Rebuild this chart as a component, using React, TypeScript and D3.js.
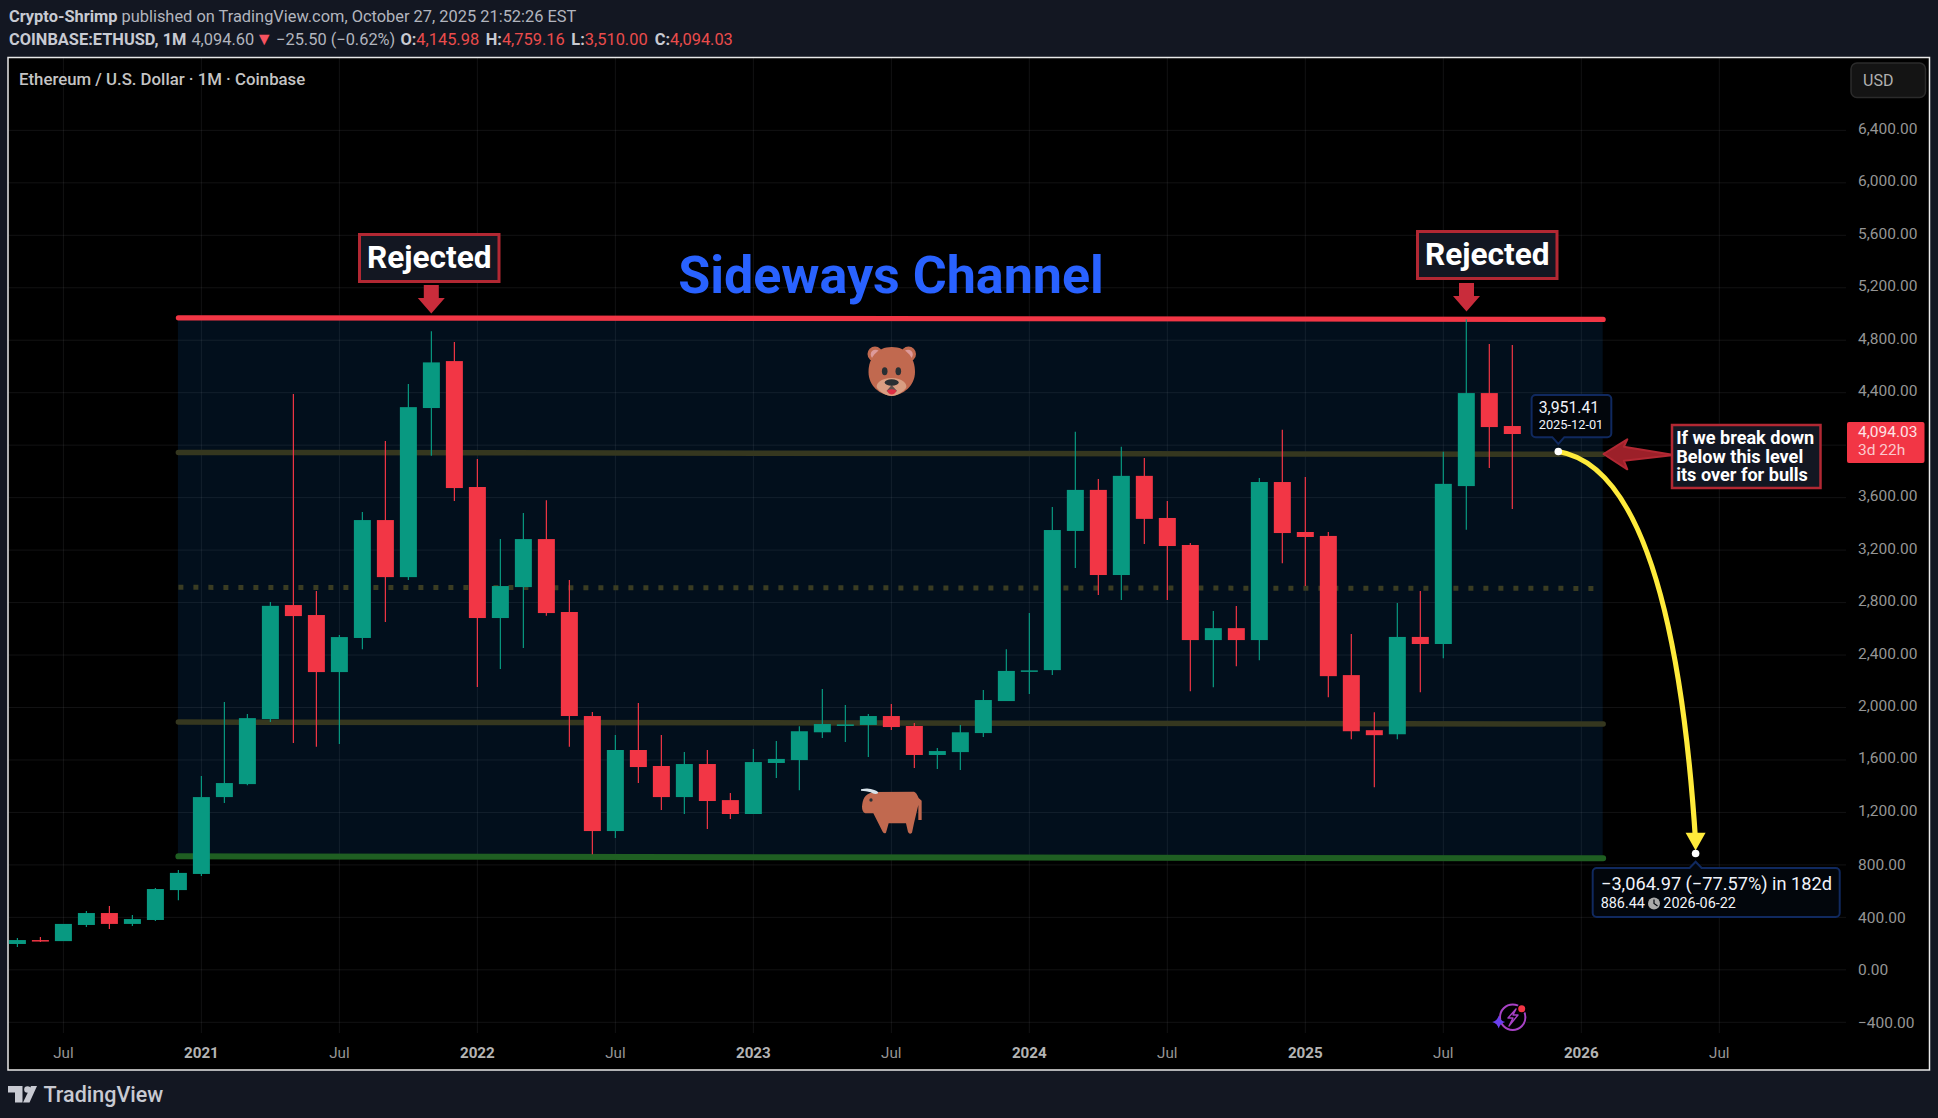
import React from "react";
import * as d3 from "d3";

// Bars are indexed by months since Jan 2021 (May 2020 = -8).
const firstMonthIndex = -8;
const opens = [197,227,219,342,433,350,380,608,731,1317,1416,1912,2781,2705,2270,2530,3429,2994,4283,4641,3681,2682,2918,3284,2728,1935,1058,1676,1554,1317,1569,1294,1188,1577,1599,1811,1865,1867,1935,1859,1638,1660,1805,2049,2279,2285,3346,3659,3010,3766,3445,3239,2514,2605,2514,3719,3338,3308,2247,1827,1796,2538,2484,3688,4397,4146];
const highs = [243,250,350,448,486,418,624,761,1477,2041,1950,2804,4390,2888,2553,3490,4031,4466,4868,4786,3894,3284,3482,3581,2972,1965,1790,2034,1790,1660,1676,1348,1684,1745,1858,2141,2019,1950,2026,1881,1691,1866,2133,2445,2720,3529,4102,3743,3987,3903,3574,3254,2735,2773,3750,4117,3758,3338,2560,1964,2796,2888,3949,4960,4771,4764];
const lows = [174,212,219,326,311,334,372,531,716,1271,1408,1889,1729,1700,1721,2445,2652,2972,3919,3574,2156,2293,2453,2700,1700,882,1005,1424,1218,1188,1073,1150,1188,1462,1370,1767,1737,1622,1828,1538,1531,1523,1775,2049,2103,2247,3064,2857,2819,3247,2819,2124,2155,2315,2361,3099,2926,2079,1758,1392,1758,2117,2376,3355,3826,3513];
const closes = [227,219,350,433,350,387,616,739,1317,1424,1919,2775,2697,2270,2537,3429,2994,4290,4631,3673,2682,2926,3284,2720,1935,1058,1676,1546,1317,1569,1287,1188,1584,1608,1819,1874,1871,1935,1851,1638,1668,1811,2057,2279,2283,3353,3659,3010,3766,3438,3231,2514,2605,2514,3719,3330,3300,2239,1819,1789,2538,2484,3705,4397,4138,4085];

const timeTickIndex = [-6,0,6,12,18,24,30,36,42,48,54,60,66];
const timeTickLabels = ["Jul","2021","Jul","2022","Jul","2023","Jul","2024","Jul","2025","Jul","2026","Jul"];
const priceTicks = [6400,6000,5600,5200,4800,4400,4000,3600,3200,2800,2400,2000,1600,1200,800,400,0,-400];
const hiddenPriceLabels = [4000]; // covered by the last-price tag in the reference

// Channel drawings: [start price, end price]
const channelTop = [4971, 4959];
const channelUpper = [3945, 3930];
const channelMid = [2916, 2908];
const channelLower = [1889, 1874];
const channelBottom = [865, 850];
const channelSpan = [-1.0, 60.95];
const fillSpan = [-1.02, 60.93];
const projectionStart = { i: 59, p: 3951.41 };
const projectionEnd = { i: 64.97, p: 886.44 };

const FONT = "Roboto, sans-serif";
const UP = "#089981";
const DOWN = "#f23645";
const BOX = "#b22833";
const PANEL = "#131722";

const x = d3.scaleLinear().domain([-8, 66]).range([17.4, 1719.3]);
const y = d3.scaleLinear().domain([-400, 5600]).range([1022.3, 235.3]);
const fmt = (v: number) => d3.format(",.2f")(v).replace("-", "−");

function Bear() {
  return (
    <g>
      <circle cx={875} cy={354} r={7.5} fill="#c1694f" />
      <circle cx={908.5} cy={354} r={7.5} fill="#c1694f" />
      <circle cx={875.5} cy={354.5} r={4.8} fill="#dd9a9a" />
      <circle cx={908} cy={354.5} r={4.8} fill="#dd9a9a" />
      <path d="M891.7 347 C907 347 915 358 915 372 C915 386 903 395 891.7 396 C880 395 868.5 386 868.5 372 C868.5 358 877 347 891.7 347Z" fill="#c1694f" />
      <path d="M891.7 378 C902 378 908 384 906 388 C903 392 897 396 891.7 396 C886 396 880 392 877 388 C875 384 881 378 891.7 378Z" fill="#d99e82" />
      <ellipse cx={884.7} cy={371.3} rx={2.8} ry={4} fill="#292f33" />
      <ellipse cx={898.3} cy={371.3} rx={2.8} ry={4} fill="#292f33" />
      <ellipse cx={891.7} cy={382.5} rx={7} ry={3.2} fill="#292f33" />
      <path d="M891.7 385 L886.5 391 Q891.7 395 897 391Z" fill="#292f33" opacity={0.7} />
      <path d="M887 390.5 Q891.7 388 896.5 390.5 Q895 394.5 891.7 394.5 Q888.5 394.5 887 390.5Z" fill="#dd2e44" />
    </g>
  );
}

function Bull() {
  return (
    <g transform="translate(840 770) scale(0.3333)">
      <path d="M66 110 C68 90 72 72 100 66 L222 65 Q230 68 236 84 L245 92 L245 150 L235 150 L235 105 L222 160 L216 188 Q209 195 204 186 L198 160 L146 160 L138 188 Q133 193 128 185 L100 130 L76 130 Q66 126 66 110Z" fill="#c1694f" />
      <path d="M63 58 Q85 52 103 60 Q116 64 114 70 Q104 75 92 67 Q78 62 63 62Z" fill="#d8e3ea" />
      <circle cx={93} cy={90} r={5} fill="#292f33" />
    </g>
  );
}

function Rejected({ l, t }: { l: number; t: number }) {
  return (
    <g>
      <rect x={l} y={t} width={139.5} height={47} fill={PANEL} stroke={BOX} strokeWidth={3} />
      <text x={l + 69.7} y={t + 22.5} textAnchor="middle" dominantBaseline="central" fontFamily={FONT} fontWeight={700} fontSize={31.6} fill="#fff">Rejected</text>
    </g>
  );
}

function DownArrow({ cx, top }: { cx: number; top: number }) {
  const p = [[cx - 7.5, top], [cx + 7.5, top], [cx + 7.5, top + 13], [cx + 13.5, top + 13], [cx, top + 28.5], [cx - 13.5, top + 13], [cx - 7.5, top + 13]];
  return <polygon points={p.map((q) => q.join(",")).join(" ")} fill="#c92c3b" />;
}

export default function App() {
  const bw = 17;
  const startX = x(projectionStart.i), startY = y(projectionStart.p);
  const endX = x(projectionEnd.i), endY = y(projectionEnd.p);
  const curveEndY = endY - 12;
  const curve = `M${startX} ${startY} Q${endX - 24} ${startY + 19} ${endX} ${curveEndY}`;
  const line = (v: number[], color: string, w: number, extra: any = {}) => (
    <line x1={x(channelSpan[0])} x2={x(channelSpan[1])} y1={y(v[0])} y2={y(v[1])} stroke={color} strokeWidth={w} strokeLinecap="round" {...extra} />
  );
  const labelShift = (p: number) => (p > 800 ? -1.5 : 0.3);
  return (
    <svg width={1938} height={1118} viewBox="0 0 1938 1118" style={{ position: "absolute", left: 0, top: 0, display: "block" }} fontFamily={FONT}>
      <rect width={1938} height={1118} fill={PANEL} />
      <rect x={8} y={57.5} width={1921.5} height={1012.5} fill="#000" stroke="#e8e8e8" strokeWidth={1.5} />

      {/* header */}
      <text x={9} y={22} fontSize={16.4} fill="#b2b5be">
        <tspan fontWeight={700} fill="#c8cad2">Crypto-Shrimp</tspan> published on TradingView.com, October 27, 2025 21:52:26 EST
      </text>
      <text x={9} y={45} fontSize={16.4} fill="#b2b5be">
        <tspan fontWeight={700} fill="#c8cad2">COINBASE:ETHUSD, 1M</tspan>
        <tspan dx={5}>4,094.60</tspan>
        <tspan fill="#f7525f" fontSize={18} dx={1}>▼</tspan>
        <tspan dx={3}>−25.50 (−0.62%) </tspan>
        <tspan fontWeight={700} fill="#c8cad2" dx={1}>O:</tspan><tspan fill="#ea4c4c">4,145.98 </tspan>
        <tspan fontWeight={700} fill="#c8cad2" dx={2.5}>H:</tspan><tspan fill="#ea4c4c">4,759.16 </tspan>
        <tspan fontWeight={700} fill="#c8cad2" dx={2.5}>L:</tspan><tspan fill="#ea4c4c">3,510.00 </tspan>
        <tspan fontWeight={700} fill="#c8cad2" dx={3}>C:</tspan><tspan fill="#ea4c4c">4,094.03</tspan>
      </text>

      {/* channel fill */}
      <rect x={x(fillSpan[0])} width={x(fillSpan[1]) - x(fillSpan[0])} y={y(channelTop[0])} height={y(channelBottom[1]) - y(channelTop[0])} fill="#020f1c" />

      {/* grid */}
      {priceTicks.map((p) => (
        <line key={p} x1={9} x2={1846} y1={y(p)} y2={y(p)} stroke="#f0f3fa" strokeOpacity={0.075} />
      ))}
      {timeTickIndex.map((i) => (
        <line key={i} x1={x(i)} x2={x(i)} y1={58} y2={1033} stroke="#f0f3fa" strokeOpacity={0.075} />
      ))}

      {/* channel lines */}
      {line(channelUpper, "#35371f", 5.5)}
      {line(channelLower, "#35371f", 5.5)}
      {line(channelMid, "#3a3c22", 5, { strokeDasharray: "5 10", strokeLinecap: "butt" })}
      {line(channelBottom, "#1f5f22", 6)}
      {line(channelTop, DOWN, 5.2)}

      {/* candles */}
      {opens.map((o, n) => {
        const i = n + firstMonthIndex;
        const c = closes[n];
        const color = c >= o ? UP : DOWN;
        const top = y(Math.max(o, c));
        const h = Math.max(1.5, y(Math.min(o, c)) - top);
        return (
          <g key={i}>
            <line x1={x(i)} x2={x(i)} y1={y(highs[n])} y2={y(lows[n])} stroke={color} strokeWidth={1.2} />
            <rect x={x(i) - bw / 2} y={top} width={bw} height={h} fill={color} />
          </g>
        );
      })}

      <text x={19} y={85} fontSize={16.8} fontWeight={500} fill="#c4c4c4">Ethereum / U.S. Dollar · 1M · Coinbase</text>

      {/* USD button */}
      <rect x={1851} y={63} width={74.5} height={34.5} rx={6} fill="#141414" stroke="#2b2b2b" strokeWidth={1.5} />
      <text x={1863} y={80.5} dominantBaseline="central" fontSize={16} fill="#b0b0b0">USD</text>

      {/* axes */}
      {priceTicks.filter((p) => !hiddenPriceLabels.includes(p)).map((p) => (
        <text key={p} x={1858} y={y(p) + labelShift(p)} dominantBaseline="central" fontSize={15.5} fill="#959595">{fmt(p)}</text>
      ))}
      {timeTickIndex.map((i, k) => (
        <text key={i} x={x(i)} y={1053} textAnchor="middle" dominantBaseline="central" fontSize={15.2} fontWeight={timeTickLabels[k] === "Jul" ? 400 : 700} fill={timeTickLabels[k] === "Jul" ? "#959595" : "#b4b4b4"}>{timeTickLabels[k]}</text>
      ))}

      {/* price label */}
      <rect x={1847} y={422} width={77.5} height={41} rx={2} fill={DOWN} />
      <text x={1858} y={431.5} dominantBaseline="central" fontSize={15.5} fill="#fde3e5">4,094.03</text>
      <text x={1858} y={450} dominantBaseline="central" fontSize={15.5} fill="#fbc9cd">3d 22h</text>

      {/* title */}
      <text x={891} y={275} textAnchor="middle" dominantBaseline="central" fontSize={52} fontWeight={700} fill="#2962ff">Sideways Channel</text>

      <Rejected l={359.5} t={234.5} />
      <DownArrow cx={431.3} top={285} />
      <Rejected l={1417.5} t={231.5} />
      <DownArrow cx={1466.5} top={283} />

      <Bear />
      <Bull />

      {/* callout at start */}
      <path d={`M1535.6 395 H1607.3 a4 4 0 0 1 4 4 V433.2 a4 4 0 0 1 -4 4 H${startX + 6} L${startX} 444 L${startX - 6} 437.2 H1535.6 a4 4 0 0 1 -4 -4 V399 a4 4 0 0 1 4 -4Z`} fill="#02060c" stroke="#10295f" strokeWidth={2} />
      <text x={1538.7} y={407} dominantBaseline="central" fontSize={15.8} fill="#f0f3fa">3,951.41</text>
      <text x={1538.7} y={424.5} dominantBaseline="central" fontSize={12.8} fill="#f0f3fa">2025-12-01</text>

      {/* projection */}
      <path d={curve} fill="none" stroke="#ffeb3b" strokeWidth={5.2} />
      <polygon points={`${endX - 10},832.7 ${endX + 10},832.7 ${endX},850.5`} fill="#ffeb3b" />
      <circle cx={startX} cy={startY} r={3.8} fill="#fff" />
      <circle cx={endX} cy={endY} r={3.8} fill="#fff" />

      {/* callout at end */}
      <path d={`M1596.7 868 H${endX - 6} L${endX} 861.7 L${endX + 6} 868 H1835.7 a4 4 0 0 1 4 4 V913 a4 4 0 0 1 -4 4 H1596.7 a4 4 0 0 1 -4 -4 V872 a4 4 0 0 1 4 -4Z`} fill="#02060c" stroke="#10295f" strokeWidth={2} />
      <text x={1601} y={883} dominantBaseline="central" fontSize={18.2} fill="#f0f3fa">−3,064.97 (−77.57%) in 182d</text>
      <text x={1600.7} y={903} dominantBaseline="central" fontSize={14.4} fill="#f0f3fa">886.44</text>
      <circle cx={1654} cy={903.5} r={6} fill="#aaa" />
      <path d="M1654 899.5 V903.5 L1657.5 906" fill="none" stroke="#02060c" strokeWidth={1.2} />
      <text x={1663.3} y={903} dominantBaseline="central" fontSize={14.4} fill="#f0f3fa">2026-06-22</text>

      {/* note */}
      <polygon points="1603.5,454 1627.3,439.3 1623.8,446.7 1674,455 1623.8,460.7 1627.3,469.3" fill="#9c2029" stroke={BOX} strokeWidth={2} strokeLinejoin="round" />
      <rect x={1672} y={425} width={148.5} height={63} fill={PANEL} stroke={BOX} strokeWidth={2.5} />
      <g fontSize={18.1} fontWeight={700} fill="#fff">
        <text x={1676.2} y={437.7} dominantBaseline="central">If we break down</text>
        <text x={1676.2} y={456.4} dominantBaseline="central">Below this level</text>
        <text x={1676.2} y={474.6} dominantBaseline="central">its over for bulls</text>
      </g>

      {/* lightning badge */}
      <circle cx={1512.7} cy={1017.3} r={12.7} fill="#000" stroke="#a742c5" strokeWidth={2} />
      <path d="M1516 1009 L1508 1018 L1513 1018 L1509 1026 L1518 1015 L1513 1015Z" fill="none" stroke="#a742c5" strokeWidth={1.4} strokeLinejoin="round" />
      <circle cx={1521.7} cy={1008.7} r={4.8} fill="#000" />
      <circle cx={1521.7} cy={1008.7} r={3.5} fill={DOWN} />
      <path d="M1498.7 1015.5 Q1500 1020.7 1505.2 1022 Q1500 1023.3 1498.7 1028.5 Q1497.4 1023.3 1492.2 1022 Q1497.4 1020.7 1498.7 1015.5Z" fill="#6a3fee" />

      {/* logo */}
      <g fill="#c8cad2">
        <path d="M8 1086 H22.5 V1102.5 H15 V1092.5 H8Z" />
        <circle cx={27.5} cy={1089.5} r={3.3} />
        <path d="M31 1086 H37 L29.5 1102.5 H23Z" />
        <text x={43.5} y={1094.7} dominantBaseline="central" fontSize={21.5} fontWeight={500}>TradingView</text>
      </g>
    </svg>
  );
}
